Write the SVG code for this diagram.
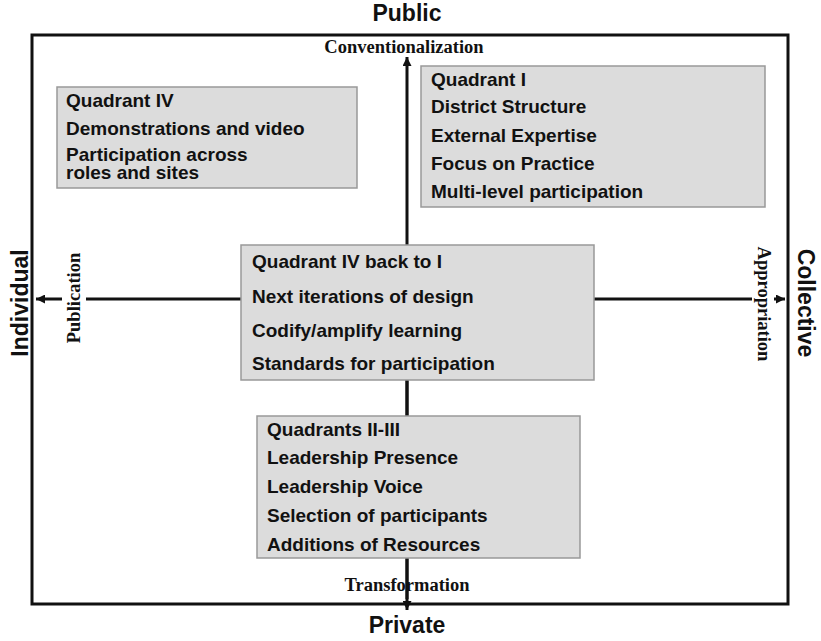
<svg xmlns="http://www.w3.org/2000/svg" width="821" height="641" viewBox="0 0 821 641">
<style>
.box{fill:#dcdcdc;stroke:#999;stroke-width:1.5}
.t{font-family:"Liberation Sans",Arial,sans-serif;font-weight:bold;font-size:19px;fill:#111}
.big{font-family:"Liberation Sans",Arial,sans-serif;font-weight:bold;font-size:23px;fill:#111}
.ax{font-family:"Liberation Serif","Times New Roman",serif;font-weight:bold;font-size:18.5px;fill:#111}
.axis{stroke:#111;stroke-width:3;fill:none}
</style>
<defs>
<marker id="ah" viewBox="0 0 10 10" refX="10" refY="5" markerWidth="3" markerHeight="3" orient="auto" markerUnits="strokeWidth">
<path d="M0,0 L10,5 L0,10 z" fill="#111"/>
</marker>
</defs>
<rect width="821" height="641" fill="#fff"/>
<rect x="32" y="35" width="756" height="569" fill="none" stroke="#111" stroke-width="3"/>
<text class="big" x="407" y="21" text-anchor="middle">Public</text>
<text class="big" x="407" y="633" text-anchor="middle">Private</text>
<text class="big" transform="translate(28,303) rotate(-90)" text-anchor="middle">Individual</text>
<text class="big" transform="translate(798,303) rotate(90)" text-anchor="middle">Collective</text>
<g id="connectors">
<line class="axis" x1="407" y1="599" x2="407" y2="57" marker-end="url(#ah)"/>
<line class="axis" x1="407" y1="299" x2="407" y2="610" marker-end="url(#ah)"/>
<line class="axis" x1="407" y1="299" x2="36" y2="299" marker-end="url(#ah)"/>
<line class="axis" x1="407" y1="299" x2="785" y2="299" marker-end="url(#ah)"/>
</g>
<text class="ax" x="404" y="53" text-anchor="middle">Conventionalization</text>
<text class="ax" x="407" y="591" text-anchor="middle">Transformation</text>
<rect x="62" y="250" width="24" height="96" fill="#fff"/>
<text class="ax" transform="translate(80,298) rotate(-90)" text-anchor="middle">Publication</text>
<rect x="752" y="245" width="22" height="118" fill="#fff"/>
<text class="ax" transform="translate(758,304) rotate(90)" text-anchor="middle">Appropriation</text>
<g id="q4">
<rect class="box" x="57" y="87" width="300" height="101"/>
<text class="t" x="66" y="107">Quadrant IV</text>
<text class="t" x="66" y="135">Demonstrations and video</text>
<text class="t" x="66" y="161">Participation across</text>
<text class="t" x="66" y="179">roles and sites</text>
</g>
<g id="q1">
<rect class="box" x="421" y="66" width="344" height="141"/>
<text class="t" x="431" y="86">Quadrant I</text>
<text class="t" x="431" y="113">District Structure</text>
<text class="t" x="431" y="142">External Expertise</text>
<text class="t" x="431" y="170">Focus on Practice</text>
<text class="t" x="431" y="198">Multi-level participation</text>
</g>
<g id="center">
<rect class="box" x="241" y="245" width="353" height="135"/>
<text class="t" x="252" y="268">Quadrant IV back to I</text>
<text class="t" x="252" y="303">Next iterations of design</text>
<text class="t" x="252" y="337">Codify/amplify learning</text>
<text class="t" x="252" y="370">Standards for participation</text>
</g>
<g id="q23">
<rect class="box" x="257" y="416" width="323" height="142"/>
<text class="t" x="267" y="436">Quadrants II-III</text>
<text class="t" x="267" y="464">Leadership Presence</text>
<text class="t" x="267" y="493">Leadership Voice</text>
<text class="t" x="267" y="522">Selection of participants</text>
<text class="t" x="267" y="551">Additions of Resources</text>
</g>
</svg>
